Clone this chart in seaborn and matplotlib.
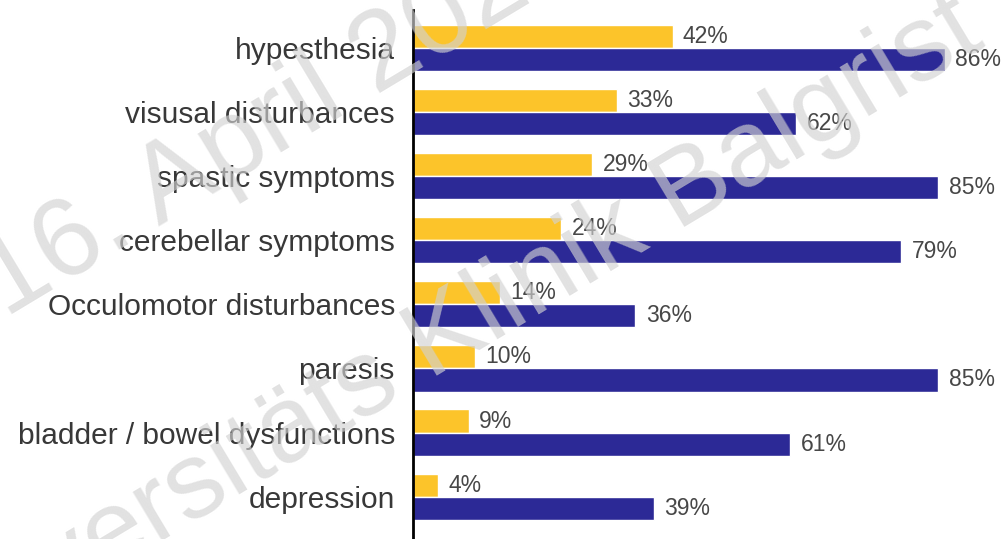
import matplotlib
matplotlib.use("Agg")
import matplotlib.pyplot as plt
import seaborn as sns
import pandas as pd

# Symptom frequencies (%) for two groups
symptoms = [
    "hypesthesia",
    "visusal disturbances",
    "spastic symptoms",
    "cerebellar symptoms",
    "Occulomotor disturbances",
    "paresis",
    "bladder / bowel dysfunctions",
    "depression",
]
initial_pct = [42, 33, 29, 24, 14, 10, 9, 4]
overall_pct = [86, 62, 85, 79, 36, 85, 61, 39]
group_names = ["initial", "overall"]

df = pd.DataFrame({
    "symptom": symptoms * 2,
    "pct": initial_pct + overall_pct,
    "group": [group_names[0]] * len(symptoms) + [group_names[1]] * len(symptoms),
})

sns.set_theme(style="white")
plt.rcParams["font.family"] = ["Liberation Sans", "DejaVu Sans"]

W, H = 1006, 539
fig = plt.figure(figsize=(W / 100, H / 100), dpi=100)
ax = fig.add_axes([413 / W, 0.0, 1 - 413 / W, 1 - 10 / H])

palette = {"initial": "#FCC42A", "overall": "#2C2996"}
sns.barplot(data=df, y="symptom", x="pct", hue="group", order=symptoms,
            hue_order=group_names, palette=palette, orient="h",
            width=0.72, saturation=1, legend=False, ax=ax)

for cont in ax.containers:
    ax.bar_label(cont, labels=[f"{v:.0f}%" for v in cont.datavalues],
                 padding=7.5, fontsize=16.5, color="#474747", clip_on=False)

ax.set_xlim(0, 95.95)
ax.set_ylim(7.66, -0.59)
ax.set_xlabel("")
ax.set_ylabel("")
ax.set_xticks([])
ax.tick_params(axis="y", length=0, pad=13, labelsize=21.5, labelcolor="#383838")
for side in ["top", "right", "bottom"]:
    ax.spines[side].set_visible(False)
ax.spines["left"].set_color("black")
ax.spines["left"].set_linewidth(2.0)

# Diagonal watermark
wm = dict(color="#d2d2d2", alpha=0.65, rotation_mode="anchor",
          va="baseline", ha="left", zorder=10)
fig.text(5 / W, 1 - 318 / H, "16. April 202", fontsize=80, rotation=31, **wm)
fig.text(-81 / W, 1 - 687 / H, "Universitäts Klinik Balgrist", fontsize=78,
         rotation=31, **wm)

fig.savefig("out.png", dpi=100)
